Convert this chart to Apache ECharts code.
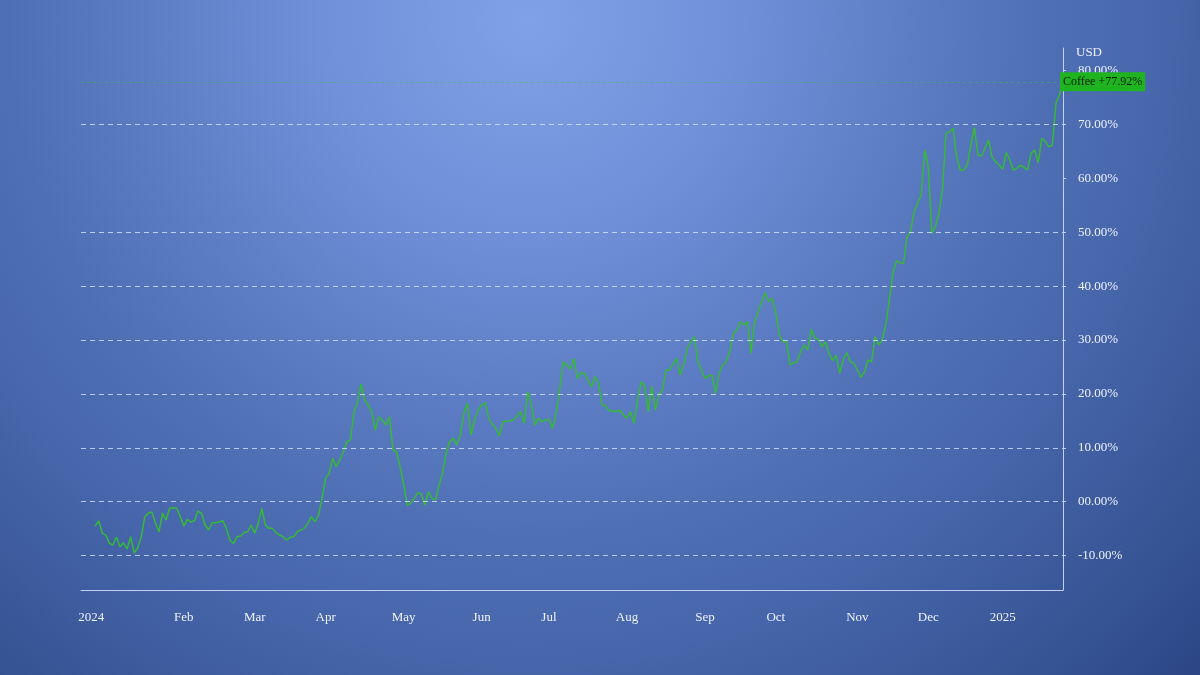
<!DOCTYPE html>
<html>
<head>
<meta charset="utf-8">
<script src="https://cdn.jsdelivr.net/npm/echarts@6/dist/echarts.min.js"></script>
<style>
html,body{margin:0;padding:0;background:#4a6aae;}
#chart{width:1200px;height:675px;}
</style>
</head>
<body>
<div id="chart"></div>
<script>
// ---- data ----
const seriesName = 'Coffee';
const currencyLabel = 'USD';
const firstDay = '2023-12-19';
const lastDay = '2025-01-29';
const firstValueDay = '2023-12-26';
const holidays = ['2023-12-25','2024-01-01','2024-01-15','2024-02-19','2024-03-29','2024-05-27',
  '2024-06-19','2024-07-04','2024-09-02','2024-11-28','2024-12-25','2025-01-01','2025-01-09','2025-01-20'];
const monthNames = ['Jan','Feb','Mar','Apr','May','Jun','Jul','Aug','Sep','Oct','Nov','Dec'];
const yTicks = [-10,0,10,20,30,40,50,60,70,80];
const gridValues = [-10,0,10,20,30,40,50,70];
// percent change, one value per trading day from firstValueDay
const values = [
  -4.53,-3.55,-5.83,-6.20,-7.69,-8.06,-6.57,-8.37,-7.63,-8.80,-6.52,-9.54,-8.61,-6.52,
  -2.80,-2.12,-1.93,-3.97,-5.59,-2.12,-3.42,-1.24,-1.13,-1.24,-2.80,-4.53,-3.29,
  -3.79,-3.55,-1.74,-2.17,-4.34,-5.27,-3.92,-3.92,-3.79,-3.55,
  -4.96,-7.13,-7.74,-6.52,-6.39,-5.77,-5.59,-4.34,-5.88,-4.03,
  -1.24,-4.34,-4.96,-4.96,-5.77,-6.20,-6.52,-7.13,-6.63,-6.52,
  -5.59,-5.27,-4.90,-4.03,-2.80,-3.73,-2.49,0.67,
  4.33,5.25,8.04,6.48,7.72,9.21,11.12,11.44,16.69,18.49,21.83,18.86,
  17.93,16.69,13.29,15.76,15.15,14.22,15.76,9.58,9.26,6.48,
  3.40,-0.63,-0.32,0.61,1.65,1.41,-0.63,1.84,0.61,0.30,
  3.08,5.25,8.97,11.12,11.75,10.51,12.36,16.39,18.25,12.36,
  15.15,17.00,17.93,18.36,15.46,14.41,13.61,12.18,14.83,14.96,
  15.02,15.15,15.89,16.69,14.54,20.40,18.25,14.22,15.46,14.83,
  15.15,15.28,13.61,16.39,20.72,25.97,25.36,24.56,26.60,22.89,
  23.82,23.82,22.57,21.33,23.19,21.96,17.93,17.75,16.87,16.82,
  16.69,17.00,16.08,15.46,16.69,14.54,18.86,22.26,21.46,16.69,
  21.46,17.00,19.79,20.72,24.43,24.43,25.54,26.60,23.50,25.36,
  28.46,29.63,30.61,25.97,24.43,22.89,23.32,23.50,20.10,23.82,
  25.36,25.97,27.83,31.24,31.85,33.40,32.78,33.40,27.53,33.40,
  35.25,37.11,38.78,37.11,37.74,34.95,30.93,29.68,29.68,25.36,
  25.73,25.97,27.83,29.07,28.14,31.98,30.31,30.13,28.75,29.68,
  27.53,26.16,27.21,23.82,26.29,27.64,25.97,25.67,24.43,23.07,
  24.11,26.29,25.97,30.61,29.07,30.00,32.78,37.42,42.38,44.72,
  44.35,44.24,49.17,50.05,53.81,55.37,56.91,65.27,62.17,49.81,
  51.03,53.52,57.84,68.37,68.67,69.30,64.03,61.56,61.56,62.48,
  66.20,69.48,64.34,64.15,65.58,67.13,63.91,63.10,62.48,61.69,
  64.77,63.41,61.56,61.87,62.48,62.06,61.56,64.66,65.27,62.91,
  67.44,66.81,65.88,66.20,73.94,75.48,77.92
];

// ---- build categories (trading days) ----
function buildTradingDays() {
  const out = [];
  const d = new Date(firstDay + 'T00:00:00Z');
  const end = new Date(lastDay + 'T00:00:00Z');
  while (d <= end) {
    const wd = d.getUTCDay();
    const s = d.toISOString().slice(0, 10);
    if (wd !== 0 && wd !== 6 && holidays.indexOf(s) < 0) out.push(s);
    d.setUTCDate(d.getUTCDate() + 1);
  }
  return out;
}
const days = buildTradingDays();
const startIdx = days.indexOf(firstValueDay);
const lineData = values.map((v, k) => [days[startIdx + k], v]);
const lastValue = values[values.length - 1];

const textColor = '#eef2ff';
const axisColor = '#c3d1f2';
const fontFamily = '"Liberation Serif", "Times New Roman", serif';

function yLabel(v) {
  const a = Math.abs(v);
  return (v < 0 ? '-' : '') + (a < 10 ? '0' + a : '' + a) + '.00%';
}

const chart = echarts.init(document.getElementById('chart'), null, {renderer: 'canvas'});
chart.setOption({
  animation: false,
  backgroundColor: {
    type: 'radial', x: 0.44, y: 0.03, r: 1.4, global: false,
    colorStops: [
      {offset: 0, color: '#80a1e5'},
      {offset: 0.22, color: '#7090da'},
      {offset: 0.42, color: '#5b7bc2'},
      {offset: 0.55, color: '#4f6fb5'},
      {offset: 0.68, color: '#4665aa'},
      {offset: 0.85, color: '#385696'},
      {offset: 1, color: '#2b4584'}
    ]
  },
  title: {
    text: currencyLabel, left: 1076, top: 46, padding: 0,
    textStyle: {color: textColor, fontFamily: fontFamily, fontSize: 13, fontWeight: 'normal'}
  },
  grid: {left: 81, right: 137, top: 48, bottom: 85, containLabel: false},
  xAxis: {
    type: 'category',
    data: days,
    boundaryGap: false,
    axisLine: {show: true, onZero: false, lineStyle: {color: axisColor, width: 1}},
    axisTick: {show: false},
    splitLine: {show: false},
    axisLabel: {
      color: textColor, fontFamily: fontFamily, fontSize: 13, margin: 21,
      interval: function (index) {
        return index > 0 && days[index].slice(0, 7) !== days[index - 1].slice(0, 7);
      },
      formatter: function (value) {
        const m = +value.slice(5, 7);
        const y = value.slice(0, 4);
        if (m === 1) return y === '2024' ? '{first|' + y + '}' : y;
        return monthNames[m - 1];
      },
      rich: {
        first: {color: textColor, fontFamily: fontFamily, fontSize: 13, padding: [0, 36, 0, 0]}
      }
    }
  },
  yAxis: {
    type: 'value',
    position: 'right',
    min: -16.4,
    max: 84.2,
    axisLine: {show: true, lineStyle: {color: axisColor, width: 1}},
    axisTick: {show: true, length: 3, customValues: yTicks, lineStyle: {color: axisColor}},
    splitLine: {show: false},
    axisLabel: {
      customValues: yTicks,
      color: textColor, fontFamily: fontFamily, fontSize: 13, margin: 15,
      formatter: yLabel
    }
  },
  series: [
    {
      name: 'grid',
      type: 'line',
      data: [],
      z: 1,
      silent: true,
      markLine: {
        silent: true,
        symbol: ['none', 'none'],
        label: {show: false},
        lineStyle: {color: 'rgba(226,234,255,0.75)', width: 1, type: [5, 4]},
        data: gridValues.map(v => ({yAxis: v}))
      }
    },
    {
      name: seriesName,
      type: 'line',
      data: lineData,
      z: 3,
      showSymbol: false,
      symbol: 'none',
      lineStyle: {color: '#36b936', width: 1.5},
      markLine: {
        silent: true,
        symbol: ['none', 'none'],
        lineStyle: {color: 'rgba(60,190,60,0.45)', width: 1, type: [3, 3]},
        label: {
          show: true,
          position: 'end',
          distance: -3,
          formatter: function () { return seriesName + ' +' + lastValue.toFixed(2) + '%'; },
          backgroundColor: '#1fb41f',
          color: '#0a1c0a',
          fontFamily: fontFamily,
          fontSize: 12,
          padding: [4, 3, 3, 3]
        },
        data: [{yAxis: lastValue}]
      }
    }
  ]
});
</script>
</body>
</html>
